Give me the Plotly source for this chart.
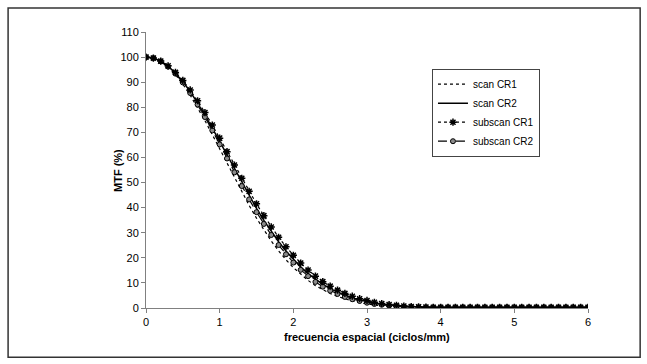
import plotly.graph_objects as go

freq = [round(i * 0.1, 1) for i in range(61)]

scan_cr1 = [100, 99.5, 98.2, 96.0, 93.0, 89.2, 84.8, 79.9, 74.7, 69.1,
            63.4, 57.6, 51.8, 46.2, 40.9, 35.8, 31.1, 26.7, 22.8, 19.2,
            16.1, 13.4, 11.0, 8.9, 7.2, 5.8, 4.6, 3.6, 2.8, 2.1,
            1.6, 1.2, 0.9, 0.7, 0.5, 0.4, 0.3, 0.2, 0.2, 0.2,
            0.2, 0.2, 0.2, 0.2, 0.2, 0.2, 0.2, 0.2, 0.2, 0.2,
            0.2, 0.2, 0.2, 0.2, 0.2, 0.2, 0.2, 0.2, 0.2, 0.2, 0.2]
scan_cr2 = [100, 99.6, 98.4, 96.4, 93.6, 90.2, 86.3, 81.8, 76.9, 71.7,
            66.3, 60.8, 55.3, 49.9, 44.7, 39.7, 34.9, 30.5, 26.4, 22.7,
            19.3, 16.3, 13.7, 11.4, 9.4, 7.7, 6.2, 5.0, 4.0, 3.2,
            2.5, 1.9, 1.5, 1.1, 0.9, 0.7, 0.5, 0.4, 0.3, 0.3,
            0.3, 0.3, 0.3, 0.3, 0.3, 0.3, 0.3, 0.3, 0.3, 0.3,
            0.3, 0.3, 0.3, 0.3, 0.3, 0.3, 0.3, 0.3, 0.3, 0.3, 0.3]
subscan_cr1 = [100, 99.6, 98.4, 96.5, 93.9, 90.7, 86.9, 82.6, 77.9, 72.9,
               67.7, 62.3, 57.0, 51.7, 46.5, 41.5, 36.8, 32.3, 28.2, 24.4,
               21.0, 17.9, 15.1, 12.7, 10.5, 8.7, 7.1, 5.8, 4.7, 3.7,
               3.0, 2.3, 1.8, 1.4, 1.1, 0.8, 0.6, 0.5, 0.4, 0.3,
               0.3, 0.3, 0.3, 0.3, 0.3, 0.3, 0.3, 0.3, 0.3, 0.3,
               0.3, 0.3, 0.3, 0.3, 0.3, 0.3, 0.3, 0.3, 0.3, 0.3, 0.3]
subscan_cr2 = [100, 99.6, 98.3, 96.2, 93.4, 89.9, 85.7, 81.1, 76.1, 70.8,
               65.2, 59.6, 54.1, 48.6, 43.3, 38.2, 33.5, 29.1, 25.1, 21.4,
               18.1, 15.2, 12.7, 10.4, 8.5, 6.9, 5.6, 4.4, 3.5, 2.8,
               2.1, 1.6, 1.3, 1.0, 0.7, 0.5, 0.4, 0.3, 0.3, 0.3,
               0.3, 0.3, 0.3, 0.3, 0.3, 0.3, 0.3, 0.3, 0.3, 0.3,
               0.3, 0.3, 0.3, 0.3, 0.3, 0.3, 0.3, 0.3, 0.3, 0.3, 0.3]

series_names = ["scan CR1", "scan CR2", "subscan CR1", "subscan CR2"]
y_ticks = list(range(0, 111, 10))
x_ticks = [0, 1, 2, 3, 4, 5, 6]

FONT = "Liberation Sans, Arial, sans-serif"

fig = go.Figure()
fig.add_trace(go.Scatter(x=freq, y=scan_cr1, name=series_names[0], mode="lines",
                         legendrank=1,
                         line=dict(color="black", width=1.2, dash="dot")))
fig.add_trace(go.Scatter(x=freq, y=scan_cr2, name=series_names[1], mode="lines",
                         legendrank=2,
                         line=dict(color="black", width=1.5)))
fig.add_trace(go.Scatter(x=freq, y=subscan_cr2, name=series_names[3], mode="lines+markers",
                         legendrank=4,
                         line=dict(color="black", width=1.2, dash="dash"),
                         marker=dict(symbol="circle", size=5, color="#8c8c8c",
                                     line=dict(color="black", width=1))))
fig.add_trace(go.Scatter(x=freq, y=subscan_cr1, name=series_names[2], mode="lines+markers",
                         legendrank=3,
                         line=dict(color="black", width=1.2, dash="dot"),
                         marker=dict(symbol="asterisk-open", size=6, color="black",
                                     line=dict(color="black", width=1.5))))

fig.update_layout(
    width=647, height=364,
    margin=dict(l=146, r=59, t=32, b=56),
    paper_bgcolor="white", plot_bgcolor="white",
    font=dict(family=FONT, size=11, color="black"),
    showlegend=True,
    legend=dict(x=0.647, y=0.867, xanchor="left", yanchor="top",
                bgcolor="white", bordercolor="#444", borderwidth=1,
                font=dict(family=FONT, size=10), tracegroupgap=0,
                itemwidth=30, traceorder="normal"),
    xaxis=dict(range=[0, 6], tickvals=x_ticks, showgrid=False, zeroline=False,
               showline=True, linecolor="#808080", linewidth=1,
               ticks="outside", ticklen=4, tickcolor="#808080",
               tickfont=dict(family=FONT, size=11)),
    yaxis=dict(range=[0, 110], tickvals=y_ticks, showgrid=False, zeroline=False,
               showline=True, linecolor="#808080", linewidth=1,
               ticks="outside", ticklen=4, tickcolor="#808080",
               tickfont=dict(family=FONT, size=11)),
    shapes=[dict(type="rect", xref="paper", yref="paper", x0=-0.312, x1=1.118,
                 y0=-0.178, y1=1.087, line=dict(color="#333", width=1.5))],
    annotations=[
        dict(text="<b>MTF (%)</b>", xref="paper", yref="paper", x=-0.0815, y=0.5,
             textangle=-90, showarrow=False, font=dict(family=FONT, size=11)),
        dict(text="<b>frecuencia espacial (ciclos/mm)</b>", xref="paper", yref="paper",
             x=0.5, y=-0.105, yanchor="middle", showarrow=False,
             font=dict(family=FONT, size=11)),
    ],
)

fig.write_html("out.html")
